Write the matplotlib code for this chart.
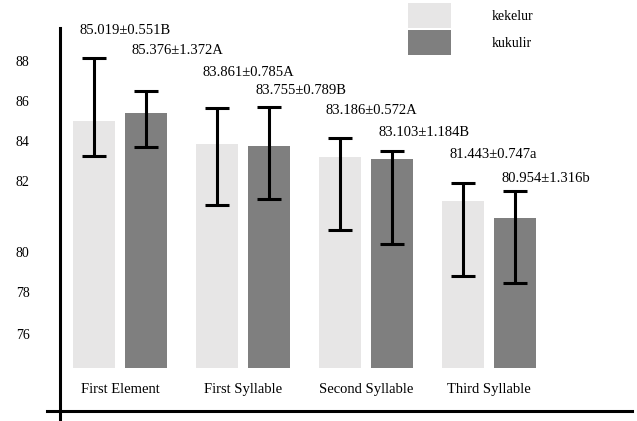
import numpy as np
import matplotlib
matplotlib.use('Agg')
import matplotlib.pyplot as plt

plt.rcParams['font.family'] = ['Liberation Serif', 'DejaVu Serif']

segments = ['First Element', 'First Syllable', 'Second Syllable', 'Third Syllable']

kekelur_mean = [85.019, 83.861, 83.186, 81.443]
kekelur_sd = [0.551, 0.785, 0.572, 0.747]
kekelur_grp = ['B', 'A', 'A', 'a']
kukulir_mean = [85.376, 83.755, 83.103, 80.954]
kukulir_sd = [1.372, 0.789, 1.184, 1.316]
kukulir_grp = ['A', 'B', 'B', 'b']

# whisker ends
kekelur_lo = [83.25, 81.32, 80.62, 78.80]
kekelur_hi = [88.15, 85.65, 84.15, 81.94]
kukulir_lo = [83.70, 81.49, 80.23, 78.45]
kukulir_hi = [86.50, 85.70, 83.50, 81.72]

tick_vals = [76, 78, 80, 82, 84, 86, 88]

LIGHT = '#e7e6e6'
DARK = '#7f7f7f'
BASE = 74.35

# uneven value axis: gap between 82 and 80 is stretched
knot_v = np.array([60, 76, 78, 80, 82, 84, 86, 88, 100])
knot_p = -np.array([662, 334, 292, 252, 181, 141, 101, 61, -179], dtype=float)


def fwd(v):
        return np.interp(v, knot_v, knot_p)


def inv(p):
        return np.interp(p, knot_p, knot_v)


W, H = 637, 421
fig = plt.figure(figsize=(W / 100, H / 100), dpi=100)
ax = fig.add_axes([60 / W, 10 / H, 572 / W, 383 / H])
ax.set_yscale('function', functions=(fwd, inv))
ax.set_ylim(72.24, 89.65)
ax.set_xlim(-0.488, 4.16)

x = np.arange(len(segments))
off = 0.212
bw = 0.34

def draw(xs, mean, lo, hi, color, name):
        mean = np.array(mean)
        ax.bar(xs, mean - BASE, bottom=BASE, width=bw, color=color, label=name)
        yerr = [mean - np.array(lo), np.array(hi) - mean]
        ax.errorbar(xs, mean, yerr=yerr, fmt='none', ecolor='black',
                    elinewidth=2.2, capsize=8.6, capthick=2.2)

draw(x - off, kekelur_mean, kekelur_lo, kekelur_hi, LIGHT, 'kekelur')
draw(x + off, kukulir_mean, kukulir_lo, kukulir_hi, DARK, 'kukulir')

# value labels, staggered down the chart
rows_a = [30, 72, 111, 155]
rows_b = [50, 91, 132, 179]
for i in range(len(segments)):
        for xs, m, s, g, row in ((x[i] - off, kekelur_mean[i], kekelur_sd[i], kekelur_grp[i], rows_a[i]),
                                 (x[i] + off, kukulir_mean[i], kukulir_sd[i], kukulir_grp[i], rows_b[i])):
                ax.annotate(f'{m:.3f}\u00b1{s:.3f}{g}', xy=(xs - 0.115, 1 - row / H),
                            xycoords=('data', 'figure fraction'),
                            ha='left', va='center', fontsize=10.5, annotation_clip=False)

for sp in ax.spines.values():
        sp.set_visible(False)
ax.plot([0, 0], [-10 / 383, 1], color='black', lw=2.2, transform=ax.transAxes, clip_on=False)
ax.plot([-13 / 572, 1], [0, 0], color='black', lw=2.2, transform=ax.transAxes, clip_on=False)

ax.set_yticks(tick_vals)
ax.set_yticklabels([str(t) for t in tick_vals])
ax.yaxis.set_minor_locator(matplotlib.ticker.NullLocator())
ax.tick_params(axis='y', length=0, pad=22, labelsize=10)
ax.set_xticks(x)
ax.set_xticklabels(segments)
ax.tick_params(axis='x', length=0, pad=-20, labelsize=10.5)

ax.legend(loc='upper left', bbox_to_anchor=(408 / W, 1 - 3 / H), bbox_transform=fig.transFigure,
          frameon=False, fontsize=10, handlelength=3.1, handleheight=2.39,
          handletextpad=2.9, labelspacing=0.18, borderpad=0, borderaxespad=0)

fig.savefig('out.png', dpi=100)
